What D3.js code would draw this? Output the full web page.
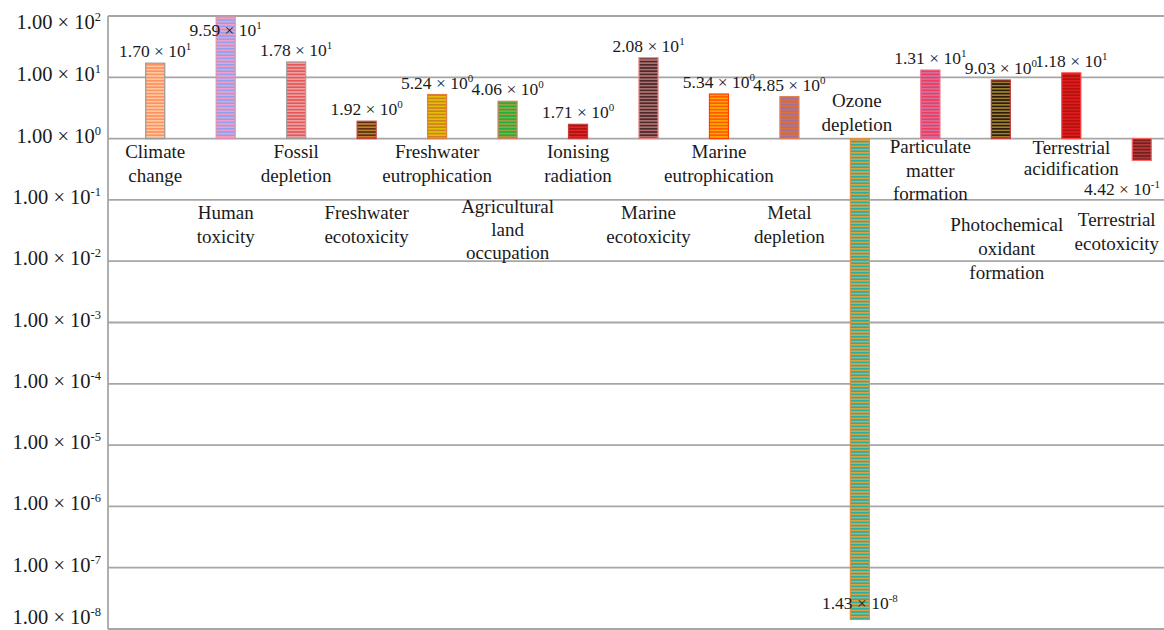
<!DOCTYPE html>
<html>
<head>
<meta charset="utf-8">
<script src="https://cdn.jsdelivr.net/npm/d3@7"></script>
<style>
  html, body { margin: 0; padding: 0; background: #fff; }
  svg { display: block; }
  text { font-family: "Liberation Serif", "DejaVu Serif", serif; fill: #1a1a1a; }
</style>
</head>
<body>
<svg id="chart" width="1164" height="630"></svg>
<script>
// ---------------- data ----------------
const categories = [
  "Climate\nchange", "Human\ntoxicity", "Fossil\ndepletion", "Freshwater\necotoxicity",
  "Freshwater\neutrophication", "Agricultural\nland\noccupation", "Ionising\nradiation",
  "Marine\necotoxicity", "Marine\neutrophication", "Metal\ndepletion", "Ozone\ndepletion",
  "Particulate\nmatter\nformation", "Photochemical\noxidant\nformation",
  "Terrestrial\nacidification", "Terrestrial\necotoxicity"
];
const values = [17.0, 95.9, 17.8, 1.92, 5.24, 4.06, 1.71, 20.8, 5.34, 4.85, 1.43e-8, 13.1, 9.03, 11.8, 0.442];
const tickExponents = [2, 1, 0, -1, -2, -3, -4, -5, -6, -7, -8];
const tickMantissa = "1.00";

// ---------------- styles ----------------
const stripeA = ["#ff9060", "#8fa0f0", "#e05858", "#5a3010", "#e0c000", "#20b040", "#b01010", "#4a2a2a", "#ff5a00", "#e07030", "#20b0a8", "#f03c5c", "#2a1c0c", "#e01c1c", "#b83838"];
const stripeB = ["#ffc8a0", "#f0a0c4", "#f0a0a0", "#c08030", "#d08020", "#a0a040", "#e02828", "#b07070", "#ffa800", "#a070a0", "#e0a040", "#d070a0", "#a08030", "#b01010", "#702020"];
const strokes = ["#999999", "#e090b0", "#a0a0a0", "#c04040", "#e08040", "#d08060", "#c04040", "#e08080", "#ff4000", "#e08050", "#e09040", "#f06080", "#c04040", "#ff4040", "#ff6060"];

const W = 1164, H = 630;
const svg = d3.select("#chart");
const axisX = 108;
const yTop = 16, yBottom = 629;

const x = d3.scaleBand().domain(d3.range(categories.length)).range([120, 1177]).paddingInner(0.73).paddingOuter(0.365);
const y = d3.scaleLog().domain([1e-8, 100]).range([yBottom, yTop]);

// patterns
const defs = svg.append("defs");
values.forEach((v, i) => {
  const p = defs.append("pattern").attr("id", "pat" + i).attr("patternUnits", "userSpaceOnUse")
    .attr("width", 6).attr("height", 3.2);
  p.append("rect").attr("width", 6).attr("height", 3.2).attr("fill", stripeB[i]);
  p.append("rect").attr("width", 6).attr("height", 1.6).attr("fill", stripeA[i]);
});

// gridlines
svg.append("g").selectAll("line").data(tickExponents).join("line")
  .attr("x1", axisX).attr("x2", W)
  .attr("y1", d => y(Math.pow(10, d))).attr("y2", d => y(Math.pow(10, d)))
  .attr("stroke", "#a6a6a6").attr("stroke-width", 1.8);

// axis line
svg.append("line").attr("x1", axisX).attr("x2", axisX).attr("y1", yTop).attr("y2", yBottom)
  .attr("stroke", "#a6a6a6").attr("stroke-width", 1.8);

// tick labels
const tl = svg.append("g").selectAll("text").data(tickExponents).join("text")
  .attr("x", 101)
  .attr("y", d => Math.min(Math.max(y(Math.pow(10, d)) + 4, 29), 624))
  .attr("text-anchor", "end")
  .attr("font-size", 20.5);
tl.append("tspan").text(tickMantissa + " \u00d7 10");
tl.append("tspan").attr("dy", -8).attr("font-size", 12.5).text(d => String(d));

// bars
svg.append("g").selectAll("rect").data(values).join("rect")
  .attr("x", (d, i) => x(i))
  .attr("width", x.bandwidth())
  .attr("y", d => y(Math.max(d, 1)))
  .attr("height", d => Math.abs(y(d) - y(1)))
  .attr("fill", (d, i) => "url(#pat" + i + ")")
  .attr("stroke", (d, i) => strokes[i]).attr("stroke-width", 1.2);

// value labels
function fmt(v) {
  const [m, e] = v.toExponential(2).split("e");
  return { m, e: String(parseInt(e, 10)) };
}
const vl = svg.append("g").selectAll("text").data(values).join("text")
  .attr("x", (d, i) => Math.min(x(i) + x.bandwidth() / 2, W - 42))
  .attr("y", d => d >= 1 ? Math.max(y(d) - 6, 36) : Math.min(y(d) + 35, yBottom - 20))
  .attr("text-anchor", "middle")
  .attr("font-size", 17.5);
vl.append("tspan").text(d => fmt(d).m + " \u00d7 10");
vl.append("tspan").attr("dy", -7).attr("font-size", 11).text(d => fmt(d).e);

// category labels
const rowBase = [158, 219];
const labelAdjust = {
  5: { y: 213, lh: 23 },
  10: { y: 107, dx: -3 },
  11: { y: 153, lh: 23.5 },
  12: { y: 231, dx: 6 },
  13: { y: 154, lh: 21 },
  14: { y: 226, dx: -25 }
};
const cl = svg.append("g").selectAll("text").data(categories).join("text")
  .attr("text-anchor", "middle")
  .attr("font-size", 19)
  .each(function (d, i) {
    const adj = labelAdjust[i] || {};
    const cx = x(i) + x.bandwidth() / 2 + (adj.dx || 0);
    const by = adj.y !== undefined ? adj.y : rowBase[i % 2];
    const lh = adj.lh || 24;
    const t = d3.select(this).attr("x", cx).attr("y", by);
    d.split("\n").forEach((line, k) => {
      t.append("tspan").attr("x", cx).attr("dy", k === 0 ? 0 : lh).text(line);
    });
  });
</script>
</body>
</html>
